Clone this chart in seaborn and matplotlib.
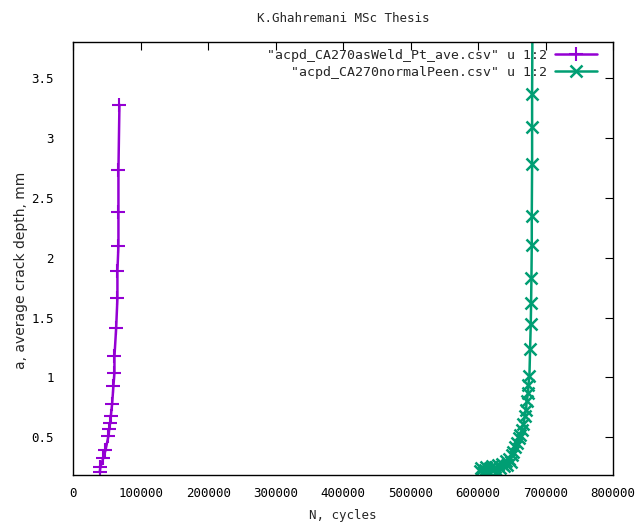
import matplotlib
matplotlib.use("Agg")
import matplotlib.pyplot as plt
import seaborn as sns
import pandas as pd
from matplotlib.ticker import FormatStrFormatter, MultipleLocator

# data (N cycles, crack depth mm)
weld_n = [39500, 40400, 44900, 47900, 52300, 53500, 54800, 55900, 57800, 59700,
          61200, 61200, 63700, 65600, 65600, 67100, 67100, 67100, 68600]
weld_a = [0.21, 0.25, 0.33, 0.39, 0.51, 0.57, 0.62, 0.68, 0.78, 0.93,
          1.04, 1.175, 1.41, 1.66, 1.89, 2.10, 2.38, 2.73, 3.28]

peen_n = [603000, 605000, 608000, 610000, 612000, 615000, 618000, 620000, 622000, 625000,
          628000, 630000, 633000, 636000, 638000, 641000, 643000, 646000, 648000, 650000,
          652000, 655000, 658000, 660000, 662000, 664500, 667000, 669500, 671000, 672000,
          674000, 674500, 676000, 677000, 678000, 678500, 679000, 679500, 679500, 680000,
          680000, 680000, 680500]
peen_a = [0.22, 0.24, 0.21, 0.23, 0.25, 0.22, 0.24, 0.26, 0.23, 0.25,
          0.22, 0.27, 0.24, 0.28, 0.26, 0.30, 0.27, 0.32, 0.29, 0.35,
          0.38, 0.42, 0.45, 0.49, 0.52, 0.56, 0.61, 0.68, 0.73, 0.80,
          0.87, 0.94, 1.01, 1.235, 1.445, 1.62, 1.83, 2.11, 2.35, 2.78,
          3.09, 3.37, 3.95]

labels = ['"acpd_CA270asWeld_Pt_ave.csv" u 1:2', '"acpd_CA270normalPeen.csv" u 1:2']
purple = '#9400D3'
green = '#009E73'

sns.set_style("white")
plt.rcParams['font.family'] = ['DejaVu Sans Mono']

fig = plt.figure(figsize=(6.36, 5.23), dpi=100)
ax = fig.add_axes([0.115, 0.092, 0.849, 0.828])

weld = pd.DataFrame({'N': weld_n, 'a': weld_a})
peen = pd.DataFrame({'N': peen_n, 'a': peen_a})

sns.lineplot(data=weld, x='N', y='a', ax=ax, estimator=None, sort=False,
             color=purple, linewidth=1.8, marker='+', markersize=10,
             markeredgewidth=1.5, markeredgecolor=purple, label=labels[0])
sns.lineplot(data=peen, x='N', y='a', ax=ax, estimator=None, sort=False,
             color=green, linewidth=1.8, marker='x', markersize=8,
             markeredgewidth=1.8, markeredgecolor=green, label=labels[1])

ax.set_xlim(0, 800000)
ax.set_ylim(0.185, 3.805)
ax.xaxis.set_major_locator(MultipleLocator(100000))
ax.yaxis.set_major_locator(MultipleLocator(0.5))
ax.xaxis.set_major_formatter(FormatStrFormatter('%d'))
ax.yaxis.set_major_formatter(FormatStrFormatter('%g'))
ax.tick_params(direction='in', length=6, width=0.8, top=True, right=True,
               labelsize=9, colors='black')
ax.tick_params(axis='x', pad=9)
ax.tick_params(axis='y', pad=14)

for s in ax.spines.values():
    s.set_color('black')
    s.set_linewidth(1)

ax.set_xlabel('N, cycles', fontsize=9, labelpad=6)
# rotated label is drawn in a proportional font in the original
ax.set_ylabel('a, average crack depth, mm', fontsize=10, family=['DejaVu Sans'])
ax.yaxis.set_label_coords(-0.083, 0.473)
ax.set_title('K.Ghahremani MSc Thesis', fontsize=9, pad=14)

ax.legend(loc='upper right', bbox_to_anchor=(0.970, 0.984), frameon=False,
          markerfirst=False, fontsize=9.5, handlelength=3.2, handletextpad=0.55,
          labelspacing=0.3, borderpad=0, borderaxespad=0)

fig.savefig('out.png', dpi=100, facecolor='white')
